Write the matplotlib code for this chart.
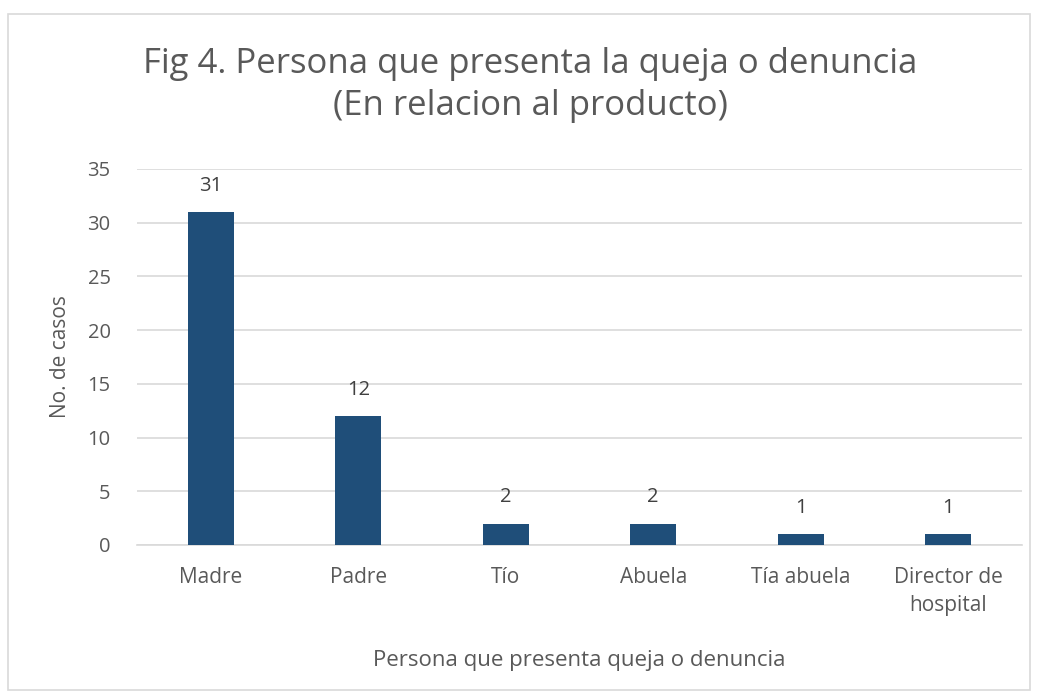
import matplotlib.pyplot as plt
from matplotlib.patches import Rectangle

categorias = ["Madre", "Padre", "Tío", "Abuela", "Tía abuela", "Director de\nhospital"]
casos = [31, 12, 2, 2, 1, 1]
yticks = [0, 5, 10, 15, 20, 25, 30, 35]

gris = "#595959"
plt.rcParams['font.family'] = ['Open Sans', 'DejaVu Sans']

fig = plt.figure(figsize=(10.4, 6.98), dpi=100)
fig.patches.append(Rectangle((8/1040, 8/698), 1022/1040, 676/698, transform=fig.transFigure,
                             fill=False, edgecolor="#D9D9D9", linewidth=1.2))
ax = fig.add_axes([137/1040, 1 - 545/698, 885/1040, 376/698])

x = range(len(categorias))
ax.bar(x, casos, width=0.31, color="#1F4E79", zorder=3)
for xi, v in zip(x, casos):
    ax.text(xi, v + 1.5, str(v), ha="center", va="bottom", fontsize=14.5, color="#404040")

ax.set_xlim(-0.5, len(categorias) - 0.5)
ax.set_ylim(0, 35)
ax.set_yticks(yticks)
ax.set_xticks(list(x))
ax.set_xticklabels(categorias, fontsize=15, color=gris, linespacing=1.45)
ax.tick_params(axis="y", labelsize=14.5, labelcolor=gris, length=0, pad=19)
ax.tick_params(axis="x", length=0, pad=16)
ax.grid(axis="y", color="#D9D9D9", linewidth=1.2, zorder=0)
for s in ["top", "right", "left"]:
    ax.spines[s].set_visible(False)
ax.spines["bottom"].set_color("#D9D9D9")
ax.spines["bottom"].set_linewidth(1.2)

ax.set_ylabel("No. de casos", fontsize=15, color=gris, labelpad=12)
ax.set_xlabel("Persona que presenta queja o denuncia", fontsize=16, color=gris, labelpad=24)

fig.text(530/1040, 1 - 85/698, "Fig 4. Persona que presenta la queja o denuncia\n(En relacion al producto)",
         ha="center", va="center", fontsize=25, color=gris, linespacing=1.3)

fig.savefig("out.png", dpi=100, facecolor="white")
